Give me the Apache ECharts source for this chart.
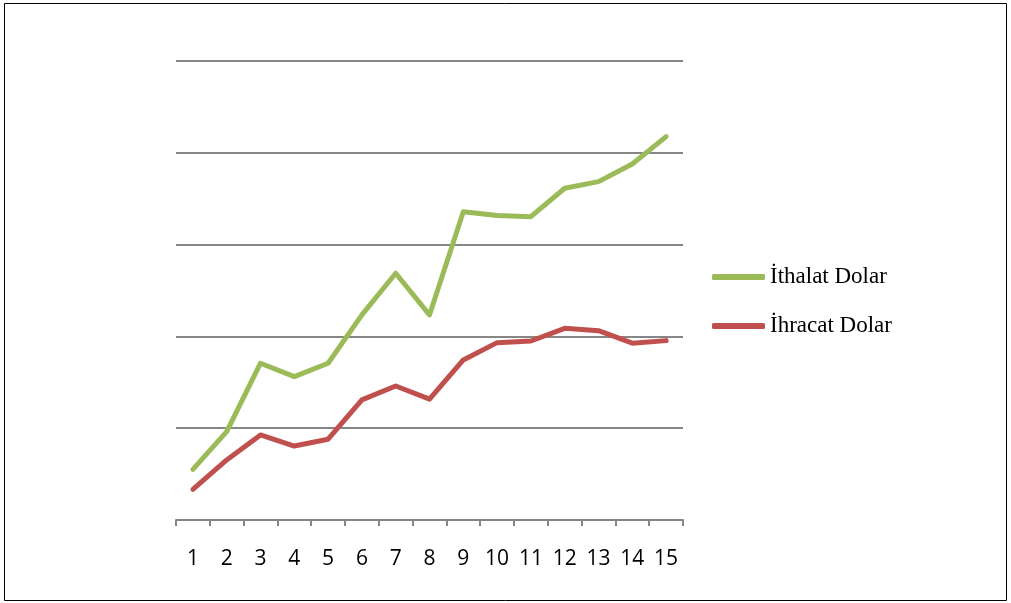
<!DOCTYPE html>
<html><head><meta charset="utf-8">
<script src="https://cdn.jsdelivr.net/npm/echarts@6/dist/echarts.min.js"></script>
<style>html,body{margin:0;padding:0;background:#fff}#c{width:1011px;height:603px}</style>
</head><body><div id="c"></div>
<script>
const categories = ['1','2','3','4','5','6','7','8','9','10','11','12','13','14','15'];
const ithalat = [27.6, 48.1, 85.4, 78.1, 85.4, 111.7, 134.4, 111.7, 167.9, 165.8, 165.2, 180.7, 184.3, 193.9, 208.8];
const ihracat = [16.7, 32.7, 46.3, 40.3, 44.0, 65.4, 73.0, 65.8, 87.2, 96.6, 97.5, 104.4, 103.1, 96.3, 97.7];
const seriesNames = ['İthalat Dolar', 'İhracat Dolar'];

const chart = echarts.init(document.getElementById('c'), null, {renderer: 'canvas'});
chart.setOption({
  animation: false,
  backgroundColor: '#fff',
  graphic: [{type: 'rect', shape: {x: 4.5, y: 3.5, width: 1002, height: 597}, style: {fill: 'none', stroke: '#000', lineWidth: 1}}],
  grid: {left: 176, right: 328, top: 61, bottom: 83},
  legend: {
    orient: 'vertical', left: 707, top: 260, itemGap: 25, itemWidth: 53, itemHeight: 6,
    icon: 'roundRect',
    textStyle: {fontFamily: 'Liberation Serif', fontSize: 23, lineHeight: 24, color: '#000'},
    data: seriesNames
  },
  xAxis: {
    type: 'category', data: categories, boundaryGap: true,
    axisLine: {lineStyle: {color: '#868686', width: 2}},
    axisTick: {show: true, length: 6, lineStyle: {color: '#868686', width: 2}},
    axisLabel: {fontFamily: 'Open Sans', fontSize: 21, color: '#000', margin: 29}
  },
  yAxis: {
    type: 'value', min: 0, max: 250, interval: 50,
    axisLine: {show: false}, axisTick: {show: false}, axisLabel: {show: false},
    splitLine: {lineStyle: {color: '#868686', width: 2}}
  },
  series: [
    {name: seriesNames[0], type: 'line', data: ithalat, showSymbol: false, symbol: 'none',
     lineStyle: {color: '#9BBB59', width: 5, cap: 'round', join: 'round'}, itemStyle: {color: '#9BBB59'}},
    {name: seriesNames[1], type: 'line', data: ihracat, showSymbol: false, symbol: 'none',
     lineStyle: {color: '#C0504D', width: 5, cap: 'round', join: 'round'}, itemStyle: {color: '#C0504D'}}
  ]
});
</script></body></html>
